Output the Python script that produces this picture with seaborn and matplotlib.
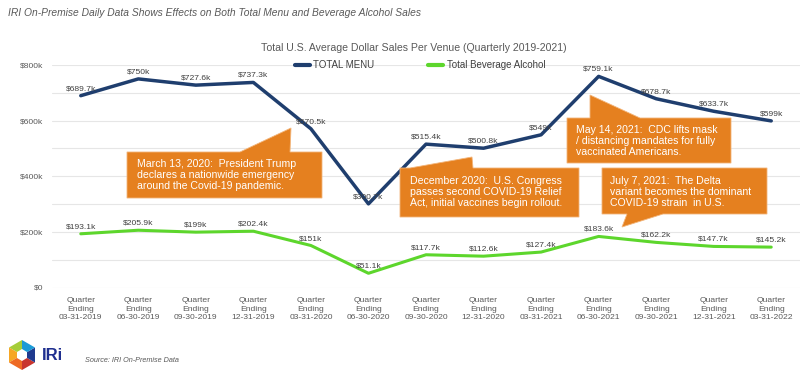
import numpy as np
import pandas as pd
import seaborn as sns
import matplotlib.pyplot as plt
from matplotlib.patches import Polygon

# quarter labels and values
quarters = ["03-31-2019", "06-30-2019", "09-30-2019", "12-31-2019",
            "03-31-2020", "06-30-2020", "09-30-2020", "12-31-2020",
            "03-31-2021", "06-30-2021", "09-30-2021", "12-31-2021",
            "03-31-2022"]
total_menu = [689.7, 750.0, 727.6, 737.3, 570.5, 300.7, 515.4, 500.8,
              549.0, 759.1, 678.7, 633.7, 599.0]
bev_alcohol = [193.1, 205.9, 199.0, 202.4, 151.0, 51.1, 117.7, 112.6,
               127.4, 183.6, 162.2, 147.7, 145.2]
series_names = ["TOTAL MENU", "Total Beverage Alcohol"]
colors = ["#1F3E6E", "#5DD62C"]

callouts = [
    "March 13, 2020:  President Trump\ndeclares a nationwide emergency\naround the Covid-19 pandemic.",
    "December 2020:  U.S. Congress\npasses second COVID-19 Relief\nAct, initial vaccines begin rollout.",
    "May 14, 2021:  CDC lifts mask\n/ distancing mandates for fully\nvaccinated Americans.",
    "July 7, 2021:  The Delta\nvariant becomes the dominant\nCOVID-19 strain  in U.S.",
]

sns.set_theme(style="white")
plt.rcParams['font.family'] = ['Liberation Sans', 'DejaVu Sans']

W, H = 800, 374
fig = plt.figure(figsize=(W / 100, H / 100), dpi=100)
ax = fig.add_axes([52 / W, 1 - 287.5 / H, (800 - 52) / W, (287.5 - 65) / H])


def px(x, y):
    # pixel position (top-left origin) -> figure fraction
    return x / W, 1 - y / H


df = pd.DataFrame({
    "idx": list(range(len(quarters))) * 2,
    "value": [v * 1000 for v in total_menu] + [v * 1000 for v in bev_alcohol],
    "series": [series_names[0]] * len(quarters) + [series_names[1]] * len(quarters),
})

sns.lineplot(data=df, x="idx", y="value", hue="series", palette=colors,
             ax=ax, legend=False)
for line, lw in zip(ax.lines, [2.5, 2.2]):
    line.set_linewidth(lw)

# data labels
for vals in (total_menu, bev_alcohol):
    for i, v in enumerate(vals):
        ax.annotate(f"${v:g}k", (i, v * 1000), xytext=(0, 5), textcoords="offset points",
                    ha="center", va="center", fontsize=6.1, color="#404040")

ticks = np.arange(0, 800001, 100000)
ax.set_xlim(-0.5, 12.5)
ax.set_ylim(0, 800000)
ax.set_yticks(ticks)
ax.set_yticklabels(["$0" if t == 0 else (f"${int(t/1000)}k" if t % 200000 == 0 else "")
                    for t in ticks])
ax.set_xticks(range(len(quarters)))
ax.set_xticklabels([f"Quarter\nEnding\n{q}" for q in quarters], linespacing=1.3)
ax.tick_params(axis="both", labelsize=6.1, labelcolor="#595959", length=0)
ax.tick_params(axis="y", pad=6.5)
ax.tick_params(axis="x", pad=7)
ax.grid(axis="y", color="#E6E6E6", lw=0.8)
ax.set_xlabel("")
ax.set_ylabel("")
sns.despine(ax=ax, left=True, bottom=True)

# legend
handles = [plt.Line2D([], [], color=c, lw=3) for c in colors]
ax.legend(handles, series_names, loc="center", bbox_to_anchor=px(420, 65),
          bbox_transform=fig.transFigure, ncol=2, frameon=False, fontsize=7,
          handlelength=1.55, columnspacing=5.5, handletextpad=0.35,
          labelcolor="#404040")

# titles
fig.text(*px(8, 13), "IRI On-Premise Daily Data Shows Effects on Both Total Menu and Beverage Alcohol Sales",
         fontsize=7.4, style="italic", color="#595959", va="center", ha="left")
fig.text(*px(414, 48), "Total U.S. Average Dollar Sales Per Venue (Quarterly 2019-2021)",
         fontsize=7.6, color="#595959", va="center", ha="center")

# callout boxes (pixel outlines)
shapes = [
    [(127, 152), (240, 152), (291, 128), (290, 152), (322, 152), (322, 198), (127, 198)],
    [(400, 168), (410, 168), (472, 157), (473, 168), (579, 168), (579, 217), (400, 217)],
    [(567, 118), (590, 118), (590, 95), (640, 118), (731, 118), (731, 163), (567, 163)],
    [(602, 168), (767, 168), (767, 214), (663, 214), (622, 227), (627, 214), (602, 214)],
]
text_pos = [(137, 175), (410, 192), (576, 141), (610, 192)]
for pts, txt, (tx, ty) in zip(shapes, callouts, text_pos):
    poly = Polygon([px(x, y) for x, y in pts], closed=True, transform=fig.transFigure,
                   facecolor="#E5801F", edgecolor="#F3B57A", lw=0.6, zorder=5)
    fig.add_artist(poly)
    fig.text(*px(tx, ty), txt, fontsize=7.6, color="white", va="center", ha="left",
             linespacing=1.12, zorder=6)

# IRI logo: hexagon split into coloured wedges
cx, cy, r = 22, 355, 15
hex_cols = ["#A5CD39", "#F6A623", "#EE6A24", "#C8352F", "#1F3A8F", "#1B9BD7"]
angles = np.deg2rad(np.arange(90, 450, 60))
for k, c in enumerate(hex_cols):
    a0, a1 = angles[k], angles[(k + 1) % 6]
    tri = [(cx, cy), (cx + r * np.cos(a0), cy - r * np.sin(a0)),
           (cx + r * np.cos(a1), cy - r * np.sin(a1))]
    fig.add_artist(Polygon([px(x, y) for x, y in tri], closed=True,
                           transform=fig.transFigure, facecolor=c, lw=0))
inner = [(cx, cy - 6), (cx + 5, cy - 3), (cx + 5, cy + 3), (cx, cy + 6), (cx - 5, cy + 3), (cx - 5, cy - 3)]
fig.add_artist(Polygon([px(x, y) for x, y in inner], closed=True,
                       transform=fig.transFigure, facecolor="white", lw=0))
fig.text(*px(42, 355), "IRi", fontsize=12, fontweight="bold", color="#1F2F8F",
         va="center", ha="left")
fig.text(*px(85, 360), "Source: IRI On-Premise Data", fontsize=5.2, style="italic",
         color="#595959", va="center", ha="left")

fig.savefig("out.png", dpi=100, facecolor="white")
